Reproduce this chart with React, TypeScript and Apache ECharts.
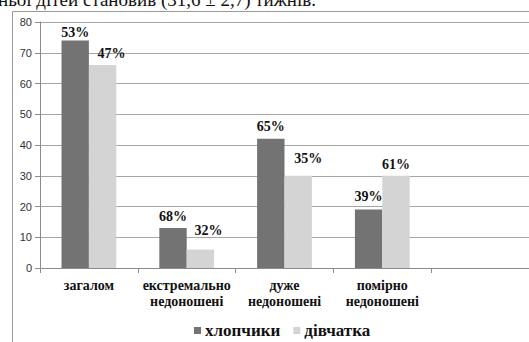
import React, { useEffect, useRef } from "react";
import * as echarts from "echarts";

const categories = ["загалом", "екстремально\nнедоношені", "дуже\nнедоношені", "помірно\nнедоношені", ""];
const boysValues = [74, 13, 42, 19];
const girlsValues = [66, 6, 30, 30];
const boysLabels = ["53%", "68%", "65%", "39%"];
const girlsLabels = ["47%", "32%", "35%", "61%"];
const seriesNames = ["хлопчики", "дівчатка"];
const boysLabelOffsets = [[0, 4], [0, 0], [0, 0], [0, -1]];
const girlsLabelOffsets = [[9, 0], [8, -7], [10, -5], [0, 1]];

const SERIF = "Liberation Serif";
const SANS = "Liberation Sans";

export default function App() {
  const ref = useRef<HTMLDivElement>(null);
  useEffect(() => {
    if (!ref.current) return;
    const chart = echarts.init(ref.current, null, { renderer: "svg" });
    const labelStyle = {
      show: true,
      position: "top" as const,
      fontFamily: SERIF,
      fontWeight: "bold" as const,
      fontSize: 14,
      color: "#111",
      distance: 5,
    };
    chart.setOption({
      animation: false,
      backgroundColor: "#ffffff",
      graphic: [
        {
          type: "text",
          left: -2,
          top: -10,
          style: {
            text: "ньої дітей становив (31,6 ± 2,7) тижнів.",
            font: "19px 'Liberation Serif'",
            fill: "#111",
          },
        },
        {
          type: "rect",
          shape: { x: 12.5, y: 11.5, width: 600, height: 400 },
          style: { fill: "none", stroke: "#9a9a9a", lineWidth: 1 },
          silent: true,
        },
      ],
      grid: { left: 40, top: 22, width: 492, height: 246 },
      legend: {
        left: 189,
        top: 317,
        icon: "rect",
        itemWidth: 7,
        itemHeight: 7,
        itemGap: 13,
        textStyle: { fontFamily: SERIF, fontWeight: "bold", fontSize: 17, color: "#111", padding: [0, 0, 0, -1] },
        data: seriesNames,
      },
      xAxis: {
        type: "category",
        data: categories,
        axisLine: { lineStyle: { color: "#8c8c8c" } },
        axisTick: { show: true, length: 5, lineStyle: { color: "#8c8c8c" } },
        axisLabel: {
          fontFamily: SERIF,
          fontWeight: "bold",
          fontSize: 14,
          color: "#111",
          lineHeight: 16,
          margin: 9,
          interval: 0,
        },
      },
      yAxis: {
        type: "value",
        min: 0,
        max: 80,
        interval: 10,
        axisLine: { show: true, lineStyle: { color: "#8c8c8c" } },
        axisTick: { show: true, length: 5, lineStyle: { color: "#8c8c8c" } },
        axisLabel: { fontFamily: SANS, fontSize: 11, color: "#333", margin: 8 },
        splitLine: { lineStyle: { color: "#a6a6a6", width: 1 } },
      },
      series: [
        {
          name: seriesNames[0],
          type: "bar",
          barGap: "0%",
          barCategoryGap: "44%",
          itemStyle: { color: "#737373" },
          data: boysValues.map((v, i) => ({
            value: v,
            label: { ...labelStyle, formatter: boysLabels[i], offset: boysLabelOffsets[i] },
          })),
        },
        {
          name: seriesNames[1],
          type: "bar",
          barGap: "0%",
          barCategoryGap: "44%",
          itemStyle: { color: "#d4d4d4" },
          data: girlsValues.map((v, i) => ({
            value: v,
            label: { ...labelStyle, formatter: girlsLabels[i], offset: girlsLabelOffsets[i] },
          })),
        },
      ],
    });
    return () => chart.dispose();
  }, []);
  return (
    <div
      ref={ref}
      style={{ position: "fixed", left: 0, top: 0, width: 529, height: 342, background: "#fff" }}
    />
  );
}
